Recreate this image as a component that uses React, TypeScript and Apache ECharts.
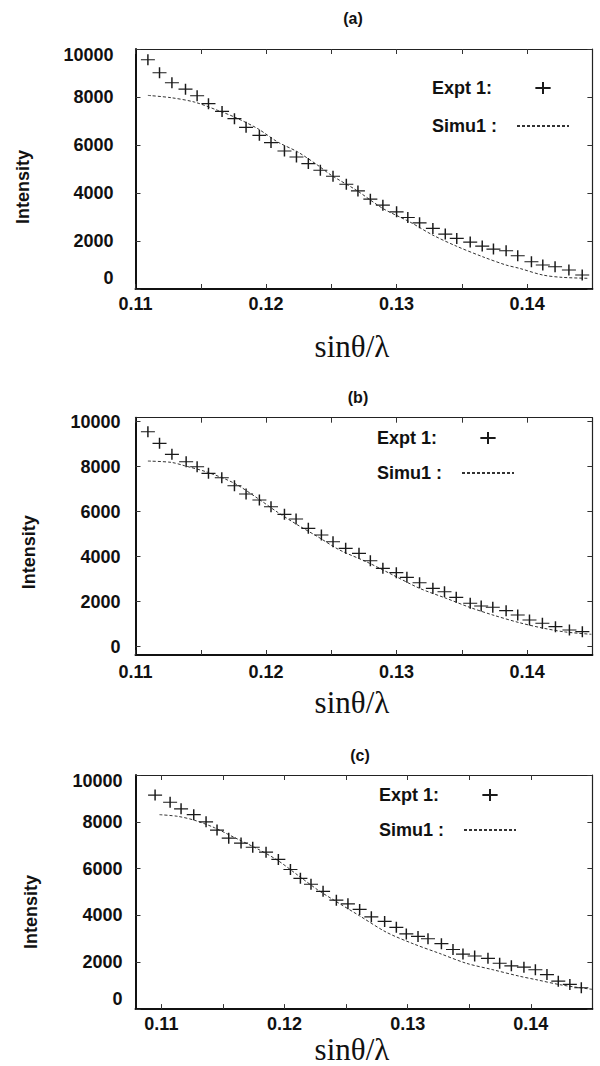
import { useEffect, useRef } from "react";
import * as echarts from "echarts";

// ---------- data ----------
const xTickValues = [0.11, 0.115, 0.12, 0.125, 0.13, 0.135, 0.14];
const xLabelValues = [0.11, 0.12, 0.13, 0.14];
const yLabelValues = [0, 2000, 4000, 6000, 8000, 10000];
const panelTitles = ["(a)", "(b)", "(c)"];
const exptName = "Expt 1:";
const simuName = "Simu1 :";
const xName = "sinθ/λ";
const yName = "Intensity";

// panel (a)
const exptAX = [0.11095, 0.11184, 0.11279, 0.11383, 0.11472, 0.11559, 0.11663, 0.11758, 0.11847, 0.11949, 0.12038, 0.12141, 0.12233, 0.12324, 0.12416, 0.12513, 0.12615, 0.12704, 0.12799, 0.12895, 0.13, 0.13086, 0.13176, 0.13278, 0.13373, 0.13461, 0.13564, 0.13656, 0.13742, 0.13839, 0.13928, 0.14033, 0.1412, 0.14214, 0.1432, 0.14422];
const exptAY = [9551, 9010, 8595, 8328, 8054, 7721, 7401, 7098, 6736, 6403, 6100, 5751, 5501, 5227, 4948, 4699, 4366, 4087, 3742, 3493, 3214, 2981, 2757, 2524, 2287, 2108, 1954, 1788, 1663, 1593, 1385, 1135, 998, 927, 790, 582];
const simuAX = [0.11095, 0.11273, 0.11452, 0.1163, 0.11758, 0.11936, 0.12089, 0.12243, 0.12396, 0.125, 0.12692, 0.12895, 0.131, 0.13278, 0.13457, 0.1366, 0.13839, 0.13941, 0.1412, 0.14267, 0.14469];
const simuAY = [8067, 7971, 7788, 7443, 7164, 6682, 6125, 5709, 5156, 4740, 4116, 3355, 2798, 2245, 1788, 1343, 998, 861, 582, 486, 445];

// panel (b)
const exptBX = [0.11095, 0.11184, 0.11279, 0.11388, 0.11472, 0.11559, 0.11661, 0.11758, 0.11847, 0.11949, 0.12038, 0.12141, 0.1223, 0.12324, 0.12424, 0.12513, 0.1261, 0.12712, 0.12799, 0.12895, 0.12998, 0.13079, 0.13176, 0.13278, 0.13367, 0.13457, 0.13564, 0.13648, 0.13737, 0.13839, 0.13928, 0.14018, 0.14117, 0.14217, 0.14324, 0.14423];
const exptBY = [9555, 9039, 8550, 8222, 8000, 7706, 7511, 7155, 6786, 6519, 6222, 5884, 5675, 5262, 4964, 4666, 4373, 4151, 3822, 3484, 3289, 3084, 2844, 2595, 2444, 2195, 1929, 1809, 1751, 1600, 1409, 1187, 1040, 889, 742, 667];
const simuBX = [0.11095, 0.11273, 0.11376, 0.11554, 0.11758, 0.11936, 0.12089, 0.12243, 0.12396, 0.12564, 0.12768, 0.12972, 0.13176, 0.1338, 0.13559, 0.13737, 0.13941, 0.14117, 0.14293, 0.14492];
const simuBY = [8253, 8195, 8044, 7750, 7262, 6595, 5973, 5408, 4889, 4297, 3777, 3186, 2595, 2151, 1751, 1409, 1067, 831, 653, 551];

// panel (c)
const exptCX = [0.10949, 0.11071, 0.1116, 0.11263, 0.11363, 0.11452, 0.11547, 0.11647, 0.11742, 0.1185, 0.1195, 0.12048, 0.12129, 0.12215, 0.12313, 0.12421, 0.12515, 0.1261, 0.12705, 0.12813, 0.12908, 0.12989, 0.13084, 0.13165, 0.13274, 0.13368, 0.13449, 0.13544, 0.13652, 0.13747, 0.13842, 0.13944, 0.14037, 0.14131, 0.14223, 0.14317, 0.1441];
const exptCY = [9142, 8837, 8556, 8305, 8000, 7648, 7301, 7092, 6912, 6703, 6393, 5962, 5586, 5335, 5029, 4653, 4498, 4259, 3941, 3745, 3494, 3213, 3105, 3004, 2795, 2544, 2351, 2268, 2167, 1958, 1849, 1791, 1682, 1473, 1192, 1054, 912];
const simuCX = [0.10985, 0.11133, 0.11269, 0.11431, 0.11593, 0.11782, 0.11945, 0.12107, 0.12269, 0.12394, 0.1261, 0.12827, 0.13043, 0.1326, 0.13476, 0.13692, 0.1391, 0.14037, 0.14255, 0.14497];
const simuCY = [8305, 8234, 8067, 7749, 7330, 6841, 6351, 5724, 5096, 4678, 3983, 3284, 2795, 2377, 1958, 1682, 1402, 1264, 1025, 845];

// ---------- layout / style ----------
const SANS = "'Liberation Sans', Arial, Helvetica, sans-serif";
const SERIF = "'Liberation Serif', 'Times New Roman', serif";
const PLUS = "path://M0,5.5L14,5.5M7,0L7,11";
const INK = "#111";
const TICK_FONT = 18;

const layouts = [
  { top: 49, height: 240, xMin: 0.11, xMax: 0.145, yMin: 0, yMax: 10000, yLabelMargin: 22, xLabelMargin: 6, yNameGap: 104, yNameShift: 18, xNameGap: 42, lowPad: 22, highPad: 11, legendLeft: 432, legendTop: 79, legendGap: 20, titleX: 353, titleY: 18 },
  { top: 417.7, height: 237.3, xMin: 0.11, xMax: 0.145, yMin: -370, yMax: 10180, yLabelMargin: 15, xLabelMargin: 8, yNameGap: 98, yNameShift: 16, xNameGap: 32, lowPad: 0, highPad: 0, legendLeft: 377, legendTop: 429, legendGap: 17, titleX: 358, titleY: 397 },
  { top: 775, height: 238.5, xMin: 0.1079, xMax: 0.145, yMin: 0, yMax: 10000, yLabelMargin: 13, xLabelMargin: 6, yNameGap: 96, yNameShift: 20, xNameGap: 23, lowPad: 20, highPad: 11, legendLeft: 379, legendTop: 786, legendGap: 17, titleX: 360, titleY: 755 },
];

const seriesData = [
  { ex: exptAX, ey: exptAY, sx: simuAX, sy: simuAY },
  { ex: exptBX, ey: exptBY, sx: simuBX, sy: simuBY },
  { ex: exptCX, ey: exptCY, sx: simuCX, sy: simuCY },
];

const zip = (xs: number[], ys: number[]) => xs.map((x, i) => [x, ys[i]]);
const isIn = (list: number[], v: number) => list.some((l) => Math.abs(l - v) < 1e-9);

function buildOption() {
  const grid: any[] = [];
  const xAxis: any[] = [];
  const yAxis: any[] = [];
  const series: any[] = [];
  const legend: any[] = [];
  const graphic: any[] = [];

  layouts.forEach((L, i) => {
    grid.push({ left: 135.5, right: 7.6, top: L.top, height: L.height, containLabel: false });

    const labelFont = { fontFamily: SANS, fontSize: TICK_FONT, fontWeight: "bold", color: INK };
    // bottom x
    xAxis.push({
      type: "value", gridIndex: i, position: "bottom", min: L.xMin, max: L.xMax,
      splitLine: { show: false },
      axisLine: { show: true, onZero: false, lineStyle: { color: INK, width: 2 } },
      axisTick: { show: true, inside: true, length: 5, customValues: xTickValues, lineStyle: { color: "#333", width: 1 } },
      axisLabel: {
        show: true, margin: L.xLabelMargin, customValues: xLabelValues,
        formatter: (v: number) => (isIn(xLabelValues, v) ? v.toFixed(2) : ""), ...labelFont,
      },
      name: xName, nameLocation: "middle", nameGap: L.xNameGap,
      nameTextStyle: { fontFamily: SERIF, fontSize: 31, color: INK, padding: [0, 24, 0, 0] },
    });
    // top x (frame)
    xAxis.push({
      type: "value", gridIndex: i, position: "top", min: L.xMin, max: L.xMax,
      splitLine: { show: false },
      axisLine: { show: true, onZero: false, lineStyle: { color: "#222", width: 1.2 } },
      axisTick: { show: true, inside: true, length: 5, customValues: xTickValues, lineStyle: { color: "#333", width: 1 } },
      axisLabel: { show: false },
    });
    // left y
    const lowPad = L.lowPad;
    const highPad = L.highPad;
    const richFont = { fontFamily: SANS, fontSize: TICK_FONT, fontWeight: "bold", color: INK };
    yAxis.push({
      type: "value", gridIndex: i, position: "left", min: L.yMin, max: L.yMax,
      splitLine: { show: false },
      axisLine: { show: true, onZero: false, lineStyle: { color: INK, width: 2 } },
      axisTick: { show: true, inside: true, length: 5, customValues: yLabelValues, lineStyle: { color: "#333", width: 1 } },
      axisLabel: {
        show: true, margin: L.yLabelMargin, customValues: yLabelValues, ...labelFont,
        formatter: (v: number) =>
          !isIn(yLabelValues, v) ? "" : v === 0 ? "{lo|0}" : v === 10000 ? "{hi|10000}" : "{n|" + v + "}",
        rich: {
          lo: { padding: [0, 0, lowPad, 0], ...richFont },
          hi: { padding: [highPad, 0, 0, 0], ...richFont },
          n: { ...richFont },
        },
      },
      name: yName, nameLocation: "middle", nameRotate: 90, nameGap: L.yNameGap,
      nameTextStyle: { fontFamily: SANS, fontSize: 18, fontWeight: "bold", color: INK, padding: [0, L.yNameShift * 2, 0, 0] },
    });
    // right y (frame)
    yAxis.push({
      type: "value", gridIndex: i, position: "right", min: L.yMin, max: L.yMax,
      splitLine: { show: false },
      axisLine: { show: true, onZero: false, lineStyle: { color: "#222", width: 1.2 } },
      axisTick: { show: true, inside: true, length: 5, customValues: yLabelValues, lineStyle: { color: "#333", width: 1 } },
      axisLabel: { show: false },
    });

    const D = seriesData[i];
    series.push({
      type: "line", name: simuName, xAxisIndex: 2 * i, yAxisIndex: 2 * i,
      data: zip(D.sx, D.sy), showSymbol: false, symbol: "none", smooth: 0.3,
      lineStyle: { color: "#333", width: 1, type: [3, 2] }, itemStyle: { color: "#333" },
      z: 2,
    });
    series.push({
      type: "scatter", name: exptName, xAxisIndex: 2 * i, yAxisIndex: 2 * i,
      data: zip(D.ex, D.ey), symbol: PLUS, symbolSize: [14, 11], symbolKeepAspect: false,
      itemStyle: { color: "#1a1a1a", borderColor: "#1a1a1a", borderWidth: 1.3, opacity: 1 },
      z: 3,
    });

    legend.push({
      orient: "vertical", left: L.legendLeft, top: L.legendTop, padding: 0,
      itemGap: L.legendGap, itemWidth: 52, itemHeight: 12, align: "right",
      selectedMode: false,
      data: [
        { name: exptName },
        { name: simuName, itemStyle: { opacity: 0 } },
      ],
      formatter: (name: string) => "{t|" + name + "}",
      textStyle: {
        fontFamily: SANS, fontSize: 18, fontWeight: "bold", color: INK, lineHeight: 18,
        rich: { t: { width: 80, align: "left", fontFamily: SANS, fontSize: 18, fontWeight: "bold", color: INK, lineHeight: 18 } },
      },
    });

    graphic.push({
      type: "text", x: L.titleX, y: L.titleY,
      style: { text: panelTitles[i], fontFamily: SANS, fontSize: 16, fontWeight: "bold", fill: INK, align: "center", verticalAlign: "middle" },
    });
  });

  return { animation: false, backgroundColor: "#fff", grid, xAxis, yAxis, series, legend, graphic };
}

export default function App() {
  const ref = useRef<HTMLDivElement | null>(null);
  useEffect(() => {
    if (!ref.current) return;
    const chart = echarts.init(ref.current, null, { renderer: "svg" });
    chart.setOption(buildOption() as any);
    return () => chart.dispose();
  }, []);
  return <div ref={ref} style={{ position: "absolute", left: 0, top: 0, width: 600, height: 1066 }} />;
}
